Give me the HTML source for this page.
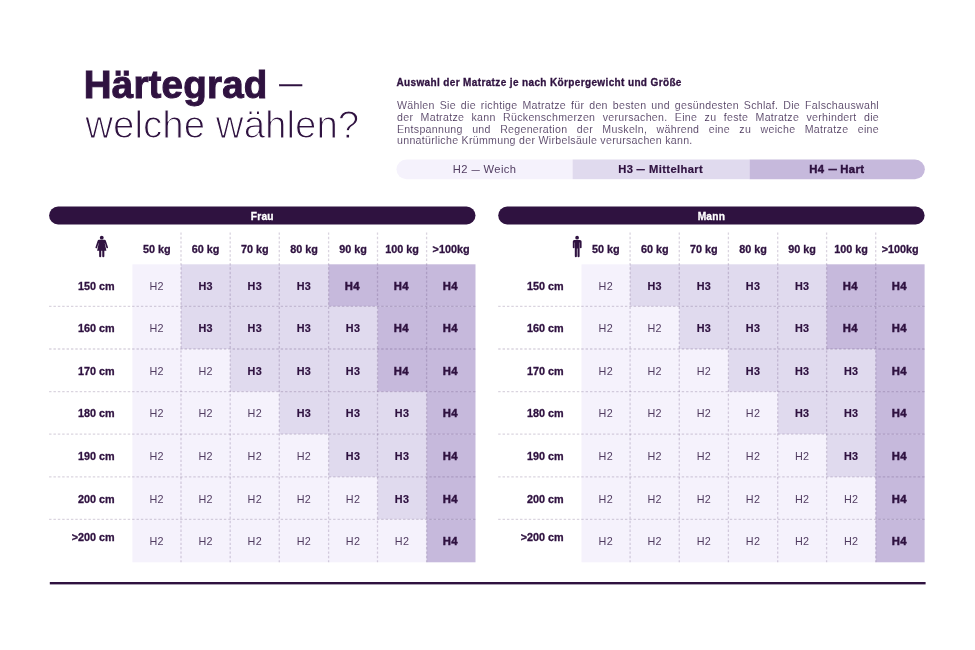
<!DOCTYPE html>
<html lang="de"><head><meta charset="utf-8"><title>Härtegrad — welche wählen?</title>
<style>
html,body{margin:0;padding:0;background:#fff}
body{width:975px;height:650px;position:relative;overflow:hidden;font-family:"Liberation Sans",sans-serif;color:#2f1240}
svg.bg{position:absolute;left:0;top:0}
.d{stroke:rgba(70,40,95,0.2);stroke-width:1.3;stroke-dasharray:2.4 1.97;fill:none}
div{position:absolute;white-space:nowrap}
.em{display:inline-block;transform:scaleX(.74);margin:0 -1.4px}
.t1{left:83.8px;top:63.3px;font-size:38.5px;line-height:44px;font-weight:700;letter-spacing:0.2px;-webkit-text-stroke:1px #2f1240}
.td{left:279.3px;top:68.4px;font-size:22.8px;line-height:30px;font-weight:400;-webkit-text-stroke:0.5px #2f1240}
.t2{left:85.3px;top:103.2px;font-size:38.5px;line-height:44px;font-weight:400;-webkit-text-stroke:1.1px #fff}
.hd{left:396.4px;top:74.8px;font-size:10px;line-height:16px;font-weight:700;letter-spacing:0.37px;-webkit-text-stroke:0.3px #2f1240}
.p{left:397px;width:482px;font-size:10.6px;line-height:12px;letter-spacing:0.3px;color:#4b375c;-webkit-text-stroke:0.1px #fff;text-align:justify;text-align-last:justify;white-space:normal}
.p.last{text-align:left;text-align-last:left}
.lg{top:159.5px;height:19.7px;line-height:19.9px;width:176.1px;text-align:center;font-size:11.2px;letter-spacing:0.36px;padding:0}
.bar{top:206.5px;height:18px;line-height:20.4px;text-align:center;color:#fff;font-weight:700;font-size:10.2px;letter-spacing:0.2px;-webkit-text-stroke:0.3px #fff}
.ch{top:238.8px;height:20px;line-height:20px;text-align:center;font-weight:700;font-size:10.8px;-webkit-text-stroke:0.3px #2f1240}
.rl{width:65.5px;text-align:right;font-weight:700;font-size:10.8px;padding-top:0.9px;-webkit-text-stroke:0.3px #2f1240}
.c{text-align:center;font-size:10.8px;letter-spacing:0.3px;padding-top:0.9px}
.h2{color:#513c61}
.h3{font-weight:700;-webkit-text-stroke:0.2px #2f1240}
.c.h4{margin-left:-0.8px}
.h4{font-weight:700;font-size:11.3px;-webkit-text-stroke:0.45px #2f1240}
</style></head><body>
<svg class="bg" width="975" height="650" viewBox="0 0 975 650">
<path d="M406.3 159.5 H572.65 V179.2 H406.3 A9.85 9.85 0 0 1 406.3 159.5Z" fill="#f5f2fc"/>
<rect x="572.6" y="159.5" width="177.1" height="19.7" fill="#e0daee"/>
<path d="M749.6 159.5 H915 A9.85 9.85 0 0 1 915 179.2 H749.6Z" fill="#c6b9dc"/>
<rect x="132.40" y="264.30" width="48.90" height="42.40" fill="#f5f2fc"/>
<rect x="181.00" y="264.30" width="147.90" height="42.40" fill="#e0daee"/>
<rect x="328.60" y="264.30" width="146.90" height="42.40" fill="#c6b9dc"/>
<rect x="132.40" y="306.40" width="48.90" height="42.90" fill="#f5f2fc"/>
<rect x="181.00" y="306.40" width="196.80" height="42.90" fill="#e0daee"/>
<rect x="377.50" y="306.40" width="98.00" height="42.90" fill="#c6b9dc"/>
<rect x="132.40" y="349.00" width="98.10" height="42.90" fill="#f5f2fc"/>
<rect x="230.20" y="349.00" width="147.60" height="42.90" fill="#e0daee"/>
<rect x="377.50" y="349.00" width="98.00" height="42.90" fill="#c6b9dc"/>
<rect x="132.40" y="391.60" width="147.20" height="42.90" fill="#f5f2fc"/>
<rect x="279.30" y="391.60" width="147.60" height="42.90" fill="#e0daee"/>
<rect x="426.60" y="391.60" width="48.90" height="42.90" fill="#c6b9dc"/>
<rect x="132.40" y="434.20" width="196.50" height="42.90" fill="#f5f2fc"/>
<rect x="328.60" y="434.20" width="98.30" height="42.90" fill="#e0daee"/>
<rect x="426.60" y="434.20" width="48.90" height="42.90" fill="#c6b9dc"/>
<rect x="132.40" y="476.80" width="245.40" height="42.90" fill="#f5f2fc"/>
<rect x="377.50" y="476.80" width="49.40" height="42.90" fill="#e0daee"/>
<rect x="426.60" y="476.80" width="48.90" height="42.90" fill="#c6b9dc"/>
<rect x="132.40" y="519.40" width="294.50" height="42.90" fill="#f5f2fc"/>
<rect x="426.60" y="519.40" width="48.90" height="42.90" fill="#c6b9dc"/>
<line x1="181.00" y1="232.4" x2="181.00" y2="562.30" class="d"/>
<line x1="230.20" y1="232.4" x2="230.20" y2="562.30" class="d"/>
<line x1="279.30" y1="232.4" x2="279.30" y2="562.30" class="d"/>
<line x1="328.60" y1="232.4" x2="328.60" y2="562.30" class="d"/>
<line x1="377.50" y1="232.4" x2="377.50" y2="562.30" class="d"/>
<line x1="426.60" y1="232.4" x2="426.60" y2="562.30" class="d"/>
<line x1="49.10" y1="306.40" x2="475.50" y2="306.40" class="d"/>
<line x1="49.10" y1="349.00" x2="475.50" y2="349.00" class="d"/>
<line x1="49.10" y1="391.60" x2="475.50" y2="391.60" class="d"/>
<line x1="49.10" y1="434.20" x2="475.50" y2="434.20" class="d"/>
<line x1="49.10" y1="476.80" x2="475.50" y2="476.80" class="d"/>
<line x1="49.10" y1="519.40" x2="475.50" y2="519.40" class="d"/>
<rect x="49.10" y="206.5" width="426.40" height="18" rx="9" fill="#2f1240"/>
<g fill="#2f1240"><circle cx="101.75" cy="237.65" r="1.9"/>
<path d="M99 239.85 H104.5 Q105.6 239.85 105.95 240.9 L108 247.2 Q108.2 248 107.45 248.3 Q106.7 248.5 106.4 247.8 L104.9 243 L104.75 243.05 L106.4 250.8 H104.35 V256.2 Q104.35 257.15 103.3 257.15 Q102.25 257.15 102.25 256.2 V250.8 H101.25 V256.2 Q101.25 257.15 100.2 257.15 Q99.15 257.15 99.15 256.2 V250.8 H97.1 L98.75 243.05 L98.6 243 L97.1 247.8 Q96.8 248.5 96.05 248.3 Q95.3 248 95.5 247.2 L97.55 240.9 Q97.9 239.85 99 239.85Z"/></g>
<rect x="581.50" y="264.30" width="48.90" height="42.40" fill="#f5f2fc"/>
<rect x="630.10" y="264.30" width="196.80" height="42.40" fill="#e0daee"/>
<rect x="826.60" y="264.30" width="98.00" height="42.40" fill="#c6b9dc"/>
<rect x="581.50" y="306.40" width="98.10" height="42.90" fill="#f5f2fc"/>
<rect x="679.30" y="306.40" width="147.60" height="42.90" fill="#e0daee"/>
<rect x="826.60" y="306.40" width="98.00" height="42.90" fill="#c6b9dc"/>
<rect x="581.50" y="349.00" width="147.20" height="42.90" fill="#f5f2fc"/>
<rect x="728.40" y="349.00" width="147.60" height="42.90" fill="#e0daee"/>
<rect x="875.70" y="349.00" width="48.90" height="42.90" fill="#c6b9dc"/>
<rect x="581.50" y="391.60" width="196.50" height="42.90" fill="#f5f2fc"/>
<rect x="777.70" y="391.60" width="98.30" height="42.90" fill="#e0daee"/>
<rect x="875.70" y="391.60" width="48.90" height="42.90" fill="#c6b9dc"/>
<rect x="581.50" y="434.20" width="245.40" height="42.90" fill="#f5f2fc"/>
<rect x="826.60" y="434.20" width="49.40" height="42.90" fill="#e0daee"/>
<rect x="875.70" y="434.20" width="48.90" height="42.90" fill="#c6b9dc"/>
<rect x="581.50" y="476.80" width="294.50" height="42.90" fill="#f5f2fc"/>
<rect x="875.70" y="476.80" width="48.90" height="42.90" fill="#c6b9dc"/>
<rect x="581.50" y="519.40" width="294.50" height="42.90" fill="#f5f2fc"/>
<rect x="875.70" y="519.40" width="48.90" height="42.90" fill="#c6b9dc"/>
<line x1="630.10" y1="232.4" x2="630.10" y2="562.30" class="d"/>
<line x1="679.30" y1="232.4" x2="679.30" y2="562.30" class="d"/>
<line x1="728.40" y1="232.4" x2="728.40" y2="562.30" class="d"/>
<line x1="777.70" y1="232.4" x2="777.70" y2="562.30" class="d"/>
<line x1="826.60" y1="232.4" x2="826.60" y2="562.30" class="d"/>
<line x1="875.70" y1="232.4" x2="875.70" y2="562.30" class="d"/>
<line x1="498.20" y1="306.40" x2="924.60" y2="306.40" class="d"/>
<line x1="498.20" y1="349.00" x2="924.60" y2="349.00" class="d"/>
<line x1="498.20" y1="391.60" x2="924.60" y2="391.60" class="d"/>
<line x1="498.20" y1="434.20" x2="924.60" y2="434.20" class="d"/>
<line x1="498.20" y1="476.80" x2="924.60" y2="476.80" class="d"/>
<line x1="498.20" y1="519.40" x2="924.60" y2="519.40" class="d"/>
<rect x="498.20" y="206.5" width="426.40" height="18" rx="9" fill="#2f1240"/>
<g fill="#2f1240"><circle cx="577.1" cy="237.7" r="1.85"/>
<path d="M574.3 239.9 H579.9 Q581.6 239.9 581.6 241.5 V247.4 Q581.6 248.2 580.75 248.2 Q579.9 248.2 579.9 247.4 V242.4 H579.6 V256.3 Q579.6 257.3 578.55 257.3 Q577.5 257.3 577.5 256.3 V248.6 H576.9 V256.3 Q576.9 257.3 575.85 257.3 Q574.8 257.3 574.8 256.3 V242.4 H574.5 V247.4 Q574.5 248.2 573.65 248.2 Q572.8 248.2 572.8 247.4 V241.5 Q572.8 239.9 574.3 239.9Z"/></g>
<rect x="49.8" y="582" width="875.8" height="2.4" fill="#2f1240"/>
</svg>
<div class="t1">Härtegrad</div>
<div class="td">—</div>
<div class="t2">welche wählen?</div>
<div class="hd">Auswahl der Matratze je nach Körpergewicht und Größe</div>
<div class="p" style="top:99.3px">Wählen Sie die richtige Matratze für den besten und gesündesten Schlaf. Die Falschauswahl</div>
<div class="p" style="top:110.95px">der Matratze kann Rückenschmerzen verursachen. Eine zu feste Matratze verhindert die</div>
<div class="p" style="top:122.6px">Entspannung und Regeneration der Muskeln, während eine zu weiche Matratze eine</div>
<div class="p last" style="top:134.3px">unnatürliche Krümmung der Wirbelsäule verursachen kann.</div>
<div class="lg h2" style="left:396.5px">H2 <span class="em">—</span> Weich</div>
<div class="lg h3" style="left:572.65px">H3 <span class="em">—</span> Mittelhart</div>
<div class="lg h4" style="left:748.8px">H4 <span class="em">—</span> Hart</div>
<div class="bar" style="left:49.10px;width:426.40px">Frau</div>
<div class="ch" style="left:132.40px;width:48.60px">50 kg</div>
<div class="ch" style="left:181.00px;width:49.20px">60 kg</div>
<div class="ch" style="left:230.20px;width:49.10px">70 kg</div>
<div class="ch" style="left:279.30px;width:49.30px">80 kg</div>
<div class="ch" style="left:328.60px;width:48.90px">90 kg</div>
<div class="ch" style="left:377.50px;width:49.10px">100 kg</div>
<div class="ch" style="left:426.60px;width:48.90px">>100kg</div>
<div class="rl" style="left:49.10px;top:264.30px;height:42.10px;line-height:42.10px">150 cm</div>
<div class="c h2" style="left:132.40px;top:264.30px;width:48.60px;height:42.10px;line-height:42.10px">H2</div>
<div class="c h3" style="left:181.00px;top:264.30px;width:49.20px;height:42.10px;line-height:42.10px">H3</div>
<div class="c h3" style="left:230.20px;top:264.30px;width:49.10px;height:42.10px;line-height:42.10px">H3</div>
<div class="c h3" style="left:279.30px;top:264.30px;width:49.30px;height:42.10px;line-height:42.10px">H3</div>
<div class="c h4" style="left:328.60px;top:264.30px;width:48.90px;height:42.10px;line-height:42.10px">H4</div>
<div class="c h4" style="left:377.50px;top:264.30px;width:49.10px;height:42.10px;line-height:42.10px">H4</div>
<div class="c h4" style="left:426.60px;top:264.30px;width:48.90px;height:42.10px;line-height:42.10px">H4</div>
<div class="rl" style="left:49.10px;top:306.40px;height:42.60px;line-height:42.60px">160 cm</div>
<div class="c h2" style="left:132.40px;top:306.40px;width:48.60px;height:42.60px;line-height:42.60px">H2</div>
<div class="c h3" style="left:181.00px;top:306.40px;width:49.20px;height:42.60px;line-height:42.60px">H3</div>
<div class="c h3" style="left:230.20px;top:306.40px;width:49.10px;height:42.60px;line-height:42.60px">H3</div>
<div class="c h3" style="left:279.30px;top:306.40px;width:49.30px;height:42.60px;line-height:42.60px">H3</div>
<div class="c h3" style="left:328.60px;top:306.40px;width:48.90px;height:42.60px;line-height:42.60px">H3</div>
<div class="c h4" style="left:377.50px;top:306.40px;width:49.10px;height:42.60px;line-height:42.60px">H4</div>
<div class="c h4" style="left:426.60px;top:306.40px;width:48.90px;height:42.60px;line-height:42.60px">H4</div>
<div class="rl" style="left:49.10px;top:349.00px;height:42.60px;line-height:42.60px">170 cm</div>
<div class="c h2" style="left:132.40px;top:349.00px;width:48.60px;height:42.60px;line-height:42.60px">H2</div>
<div class="c h2" style="left:181.00px;top:349.00px;width:49.20px;height:42.60px;line-height:42.60px">H2</div>
<div class="c h3" style="left:230.20px;top:349.00px;width:49.10px;height:42.60px;line-height:42.60px">H3</div>
<div class="c h3" style="left:279.30px;top:349.00px;width:49.30px;height:42.60px;line-height:42.60px">H3</div>
<div class="c h3" style="left:328.60px;top:349.00px;width:48.90px;height:42.60px;line-height:42.60px">H3</div>
<div class="c h4" style="left:377.50px;top:349.00px;width:49.10px;height:42.60px;line-height:42.60px">H4</div>
<div class="c h4" style="left:426.60px;top:349.00px;width:48.90px;height:42.60px;line-height:42.60px">H4</div>
<div class="rl" style="left:49.10px;top:391.60px;height:42.60px;line-height:42.60px">180 cm</div>
<div class="c h2" style="left:132.40px;top:391.60px;width:48.60px;height:42.60px;line-height:42.60px">H2</div>
<div class="c h2" style="left:181.00px;top:391.60px;width:49.20px;height:42.60px;line-height:42.60px">H2</div>
<div class="c h2" style="left:230.20px;top:391.60px;width:49.10px;height:42.60px;line-height:42.60px">H2</div>
<div class="c h3" style="left:279.30px;top:391.60px;width:49.30px;height:42.60px;line-height:42.60px">H3</div>
<div class="c h3" style="left:328.60px;top:391.60px;width:48.90px;height:42.60px;line-height:42.60px">H3</div>
<div class="c h3" style="left:377.50px;top:391.60px;width:49.10px;height:42.60px;line-height:42.60px">H3</div>
<div class="c h4" style="left:426.60px;top:391.60px;width:48.90px;height:42.60px;line-height:42.60px">H4</div>
<div class="rl" style="left:49.10px;top:434.20px;height:42.60px;line-height:42.60px">190 cm</div>
<div class="c h2" style="left:132.40px;top:434.20px;width:48.60px;height:42.60px;line-height:42.60px">H2</div>
<div class="c h2" style="left:181.00px;top:434.20px;width:49.20px;height:42.60px;line-height:42.60px">H2</div>
<div class="c h2" style="left:230.20px;top:434.20px;width:49.10px;height:42.60px;line-height:42.60px">H2</div>
<div class="c h2" style="left:279.30px;top:434.20px;width:49.30px;height:42.60px;line-height:42.60px">H2</div>
<div class="c h3" style="left:328.60px;top:434.20px;width:48.90px;height:42.60px;line-height:42.60px">H3</div>
<div class="c h3" style="left:377.50px;top:434.20px;width:49.10px;height:42.60px;line-height:42.60px">H3</div>
<div class="c h4" style="left:426.60px;top:434.20px;width:48.90px;height:42.60px;line-height:42.60px">H4</div>
<div class="rl" style="left:49.10px;top:476.80px;height:42.60px;line-height:42.60px">200 cm</div>
<div class="c h2" style="left:132.40px;top:476.80px;width:48.60px;height:42.60px;line-height:42.60px">H2</div>
<div class="c h2" style="left:181.00px;top:476.80px;width:49.20px;height:42.60px;line-height:42.60px">H2</div>
<div class="c h2" style="left:230.20px;top:476.80px;width:49.10px;height:42.60px;line-height:42.60px">H2</div>
<div class="c h2" style="left:279.30px;top:476.80px;width:49.30px;height:42.60px;line-height:42.60px">H2</div>
<div class="c h2" style="left:328.60px;top:476.80px;width:48.90px;height:42.60px;line-height:42.60px">H2</div>
<div class="c h3" style="left:377.50px;top:476.80px;width:49.10px;height:42.60px;line-height:42.60px">H3</div>
<div class="c h4" style="left:426.60px;top:476.80px;width:48.90px;height:42.60px;line-height:42.60px">H4</div>
<div class="rl" style="left:49.10px;top:519.40px;height:42.90px;line-height:42.90px;margin-top:-4.1px">>200 cm</div>
<div class="c h2" style="left:132.40px;top:519.40px;width:48.60px;height:42.90px;line-height:42.90px">H2</div>
<div class="c h2" style="left:181.00px;top:519.40px;width:49.20px;height:42.90px;line-height:42.90px">H2</div>
<div class="c h2" style="left:230.20px;top:519.40px;width:49.10px;height:42.90px;line-height:42.90px">H2</div>
<div class="c h2" style="left:279.30px;top:519.40px;width:49.30px;height:42.90px;line-height:42.90px">H2</div>
<div class="c h2" style="left:328.60px;top:519.40px;width:48.90px;height:42.90px;line-height:42.90px">H2</div>
<div class="c h2" style="left:377.50px;top:519.40px;width:49.10px;height:42.90px;line-height:42.90px">H2</div>
<div class="c h4" style="left:426.60px;top:519.40px;width:48.90px;height:42.90px;line-height:42.90px">H4</div>
<div class="bar" style="left:498.20px;width:426.40px">Mann</div>
<div class="ch" style="left:581.50px;width:48.60px">50 kg</div>
<div class="ch" style="left:630.10px;width:49.20px">60 kg</div>
<div class="ch" style="left:679.30px;width:49.10px">70 kg</div>
<div class="ch" style="left:728.40px;width:49.30px">80 kg</div>
<div class="ch" style="left:777.70px;width:48.90px">90 kg</div>
<div class="ch" style="left:826.60px;width:49.10px">100 kg</div>
<div class="ch" style="left:875.70px;width:48.90px">>100kg</div>
<div class="rl" style="left:498.20px;top:264.30px;height:42.10px;line-height:42.10px">150 cm</div>
<div class="c h2" style="left:581.50px;top:264.30px;width:48.60px;height:42.10px;line-height:42.10px">H2</div>
<div class="c h3" style="left:630.10px;top:264.30px;width:49.20px;height:42.10px;line-height:42.10px">H3</div>
<div class="c h3" style="left:679.30px;top:264.30px;width:49.10px;height:42.10px;line-height:42.10px">H3</div>
<div class="c h3" style="left:728.40px;top:264.30px;width:49.30px;height:42.10px;line-height:42.10px">H3</div>
<div class="c h3" style="left:777.70px;top:264.30px;width:48.90px;height:42.10px;line-height:42.10px">H3</div>
<div class="c h4" style="left:826.60px;top:264.30px;width:49.10px;height:42.10px;line-height:42.10px">H4</div>
<div class="c h4" style="left:875.70px;top:264.30px;width:48.90px;height:42.10px;line-height:42.10px">H4</div>
<div class="rl" style="left:498.20px;top:306.40px;height:42.60px;line-height:42.60px">160 cm</div>
<div class="c h2" style="left:581.50px;top:306.40px;width:48.60px;height:42.60px;line-height:42.60px">H2</div>
<div class="c h2" style="left:630.10px;top:306.40px;width:49.20px;height:42.60px;line-height:42.60px">H2</div>
<div class="c h3" style="left:679.30px;top:306.40px;width:49.10px;height:42.60px;line-height:42.60px">H3</div>
<div class="c h3" style="left:728.40px;top:306.40px;width:49.30px;height:42.60px;line-height:42.60px">H3</div>
<div class="c h3" style="left:777.70px;top:306.40px;width:48.90px;height:42.60px;line-height:42.60px">H3</div>
<div class="c h4" style="left:826.60px;top:306.40px;width:49.10px;height:42.60px;line-height:42.60px">H4</div>
<div class="c h4" style="left:875.70px;top:306.40px;width:48.90px;height:42.60px;line-height:42.60px">H4</div>
<div class="rl" style="left:498.20px;top:349.00px;height:42.60px;line-height:42.60px">170 cm</div>
<div class="c h2" style="left:581.50px;top:349.00px;width:48.60px;height:42.60px;line-height:42.60px">H2</div>
<div class="c h2" style="left:630.10px;top:349.00px;width:49.20px;height:42.60px;line-height:42.60px">H2</div>
<div class="c h2" style="left:679.30px;top:349.00px;width:49.10px;height:42.60px;line-height:42.60px">H2</div>
<div class="c h3" style="left:728.40px;top:349.00px;width:49.30px;height:42.60px;line-height:42.60px">H3</div>
<div class="c h3" style="left:777.70px;top:349.00px;width:48.90px;height:42.60px;line-height:42.60px">H3</div>
<div class="c h3" style="left:826.60px;top:349.00px;width:49.10px;height:42.60px;line-height:42.60px">H3</div>
<div class="c h4" style="left:875.70px;top:349.00px;width:48.90px;height:42.60px;line-height:42.60px">H4</div>
<div class="rl" style="left:498.20px;top:391.60px;height:42.60px;line-height:42.60px">180 cm</div>
<div class="c h2" style="left:581.50px;top:391.60px;width:48.60px;height:42.60px;line-height:42.60px">H2</div>
<div class="c h2" style="left:630.10px;top:391.60px;width:49.20px;height:42.60px;line-height:42.60px">H2</div>
<div class="c h2" style="left:679.30px;top:391.60px;width:49.10px;height:42.60px;line-height:42.60px">H2</div>
<div class="c h2" style="left:728.40px;top:391.60px;width:49.30px;height:42.60px;line-height:42.60px">H2</div>
<div class="c h3" style="left:777.70px;top:391.60px;width:48.90px;height:42.60px;line-height:42.60px">H3</div>
<div class="c h3" style="left:826.60px;top:391.60px;width:49.10px;height:42.60px;line-height:42.60px">H3</div>
<div class="c h4" style="left:875.70px;top:391.60px;width:48.90px;height:42.60px;line-height:42.60px">H4</div>
<div class="rl" style="left:498.20px;top:434.20px;height:42.60px;line-height:42.60px">190 cm</div>
<div class="c h2" style="left:581.50px;top:434.20px;width:48.60px;height:42.60px;line-height:42.60px">H2</div>
<div class="c h2" style="left:630.10px;top:434.20px;width:49.20px;height:42.60px;line-height:42.60px">H2</div>
<div class="c h2" style="left:679.30px;top:434.20px;width:49.10px;height:42.60px;line-height:42.60px">H2</div>
<div class="c h2" style="left:728.40px;top:434.20px;width:49.30px;height:42.60px;line-height:42.60px">H2</div>
<div class="c h2" style="left:777.70px;top:434.20px;width:48.90px;height:42.60px;line-height:42.60px">H2</div>
<div class="c h3" style="left:826.60px;top:434.20px;width:49.10px;height:42.60px;line-height:42.60px">H3</div>
<div class="c h4" style="left:875.70px;top:434.20px;width:48.90px;height:42.60px;line-height:42.60px">H4</div>
<div class="rl" style="left:498.20px;top:476.80px;height:42.60px;line-height:42.60px">200 cm</div>
<div class="c h2" style="left:581.50px;top:476.80px;width:48.60px;height:42.60px;line-height:42.60px">H2</div>
<div class="c h2" style="left:630.10px;top:476.80px;width:49.20px;height:42.60px;line-height:42.60px">H2</div>
<div class="c h2" style="left:679.30px;top:476.80px;width:49.10px;height:42.60px;line-height:42.60px">H2</div>
<div class="c h2" style="left:728.40px;top:476.80px;width:49.30px;height:42.60px;line-height:42.60px">H2</div>
<div class="c h2" style="left:777.70px;top:476.80px;width:48.90px;height:42.60px;line-height:42.60px">H2</div>
<div class="c h2" style="left:826.60px;top:476.80px;width:49.10px;height:42.60px;line-height:42.60px">H2</div>
<div class="c h4" style="left:875.70px;top:476.80px;width:48.90px;height:42.60px;line-height:42.60px">H4</div>
<div class="rl" style="left:498.20px;top:519.40px;height:42.90px;line-height:42.90px;margin-top:-4.1px">>200 cm</div>
<div class="c h2" style="left:581.50px;top:519.40px;width:48.60px;height:42.90px;line-height:42.90px">H2</div>
<div class="c h2" style="left:630.10px;top:519.40px;width:49.20px;height:42.90px;line-height:42.90px">H2</div>
<div class="c h2" style="left:679.30px;top:519.40px;width:49.10px;height:42.90px;line-height:42.90px">H2</div>
<div class="c h2" style="left:728.40px;top:519.40px;width:49.30px;height:42.90px;line-height:42.90px">H2</div>
<div class="c h2" style="left:777.70px;top:519.40px;width:48.90px;height:42.90px;line-height:42.90px">H2</div>
<div class="c h2" style="left:826.60px;top:519.40px;width:49.10px;height:42.90px;line-height:42.90px">H2</div>
<div class="c h4" style="left:875.70px;top:519.40px;width:48.90px;height:42.90px;line-height:42.90px">H4</div>
</body></html>
